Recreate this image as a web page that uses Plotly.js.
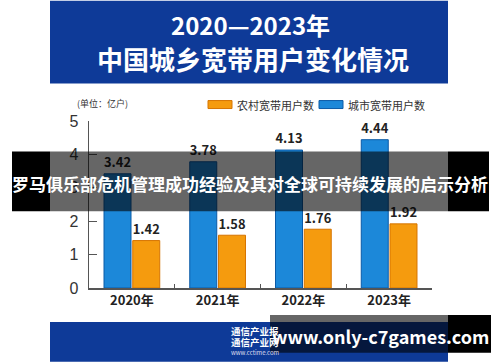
<!DOCTYPE html>
<html>
<head>
<meta charset="utf-8">
<script src="https://cdn.plot.ly/plotly-3.0.1.min.js"></script>
<style>html,body{margin:0;padding:0;background:#fff;}#chart{width:500px;height:362px;}</style>
</head>
<body>
<div id="chart"></div>
<script>
const years = ['2020年', '2021年', '2022年', '2023年'];
const cityUsers = [3.42, 3.78, 4.13, 4.44];
const ruralUsers = [1.42, 1.58, 1.76, 1.92];
const cityName = '城市宽带用户数';
const ruralName = '农村宽带用户数';
const titleLine1 = '2020—2023年';
const titleLine2 = '中国城乡宽带用户变化情况';
const unitLabel = '(单位：亿户)';
const overlayText = '罗马俱乐部危机管理成功经验及其对全球可持续发展的启示分析';
const urlText = 'www.only-c7games.com';

// plot-area geometry in pixels
const L = 89, R = 432, T = 120.5, B = 288;
const X = px => (px - L) / (R - L);
const Y = py => (B - py) / (B - T);

const FONT = '"Noto Sans CJK SC", "Noto Sans", sans-serif';
const BLUE = 'rgb(14,58,152)';
const CITY_COLOR = '#1c88d9', CITY_LINE = '#0b5aa6';
const RURAL_COLOR = '#f59b0e', RURAL_LINE = '#d67400';

const traces = [
  {
    type: 'bar', name: cityName, x: years, y: cityUsers,
    marker: {color: CITY_COLOR, line: {color: CITY_LINE, width: 1}},
    text: cityUsers.map(v => v.toFixed(2)), textposition: 'outside',
    textfont: {family: FONT, size: 14, color: '#222', weight: 'bold'},
    cliponaxis: false, showlegend: false
  },
  {
    type: 'bar', name: ruralName, x: years, y: ruralUsers,
    marker: {color: RURAL_COLOR, line: {color: RURAL_LINE, width: 1}},
    text: ruralUsers.map(v => v.toFixed(2)), textposition: 'outside',
    textfont: {family: FONT, size: 14, color: '#222', weight: 'bold'},
    cliponaxis: false, showlegend: false
  }
];

const rect = (x0, x1, y0, y1, fill, layer, lineColor) => ({
  type: 'rect', xref: 'paper', yref: 'paper',
  x0: X(x0), x1: X(x1), y0: Y(y0), y1: Y(y1),
  fillcolor: fill, line: lineColor ? {color: lineColor, width: 1} : {width: 0}, layer: layer
});

const shapes = [
  // header and footer bands
  rect(50, 448, 0, 83, BLUE, 'below'),
  rect(50, 448, 322, 362, BLUE, 'below'),
  // legend swatches
  rect(208, 232, 100, 108, RURAL_COLOR, 'below', RURAL_LINE),
  rect(319, 343, 100, 108, CITY_COLOR, 'below', CITY_LINE),
  // overlay band
  rect(12, 50, 151, 211, '#000', 'above'),
  rect(448, 489, 151, 211, '#000', 'above'),
  rect(50, 448, 151, 211, 'rgba(0,0,0,0.6)', 'above'),
  // bottom url band
  rect(270, 448, 315, 353, 'rgba(0,0,0,0.6)', 'above'),
  rect(448, 491, 315, 353, '#000', 'above')
];

const ann = (text, px, py, size, opts) => Object.assign({
  text: text, xref: 'paper', yref: 'paper', x: X(px), y: Y(py),
  xanchor: 'center', yanchor: 'middle', showarrow: false,
  font: {family: FONT, size: size, color: '#fff', weight: 'bold'}
}, opts || {});

const annotations = [
  ann(titleLine1, 250, 24, 24),
  ann(titleLine2, 253, 58, 26),
  ann(unitLabel, 102, 103, 9, {font: {family: FONT, size: 9, color: '#333'}}),
  ann(ruralName, 235, 104, 11, {xanchor: 'left', font: {family: FONT, size: 11, color: '#333'}}),
  ann(cityName, 346, 104, 11, {xanchor: 'left', font: {family: FONT, size: 11, color: '#333'}}),
  ann('通信产业报', 255, 331, 9.5),
  ann('通信产业网', 255, 342, 9.5),
  ann('www.cctime.com', 255, 353, 6, {font: {family: FONT, size: 6, color: '#dde'}}),
  ann(overlayText, 250, 183, 17),
  ann(urlText, 380, 336, 18)
];

const layout = {
  width: 500, height: 362,
  margin: {l: L, r: 500 - R, t: T, b: 362 - B, pad: 0},
  paper_bgcolor: '#fff', plot_bgcolor: 'rgba(0,0,0,0)',
  barmode: 'group', bargap: 0.33, bargroupgap: 0.06,
  showlegend: false,
  xaxis: {
    type: 'category', showline: true, linecolor: '#555', linewidth: 1.5,
    ticks: 'inside', ticklen: 4, tickcolor: '#555', tickson: 'boundaries',
    tickfont: {family: FONT, size: 13, color: '#222', weight: 'bold'},
    showgrid: false, zeroline: false, fixedrange: true
  },
  yaxis: {
    range: [0, 5], dtick: 1, showline: true, linecolor: '#555', linewidth: 1.5,
    ticks: 'inside', ticklen: 8, tickcolor: '#555',
    tickfont: {family: '"Liberation Sans", Arial, sans-serif', size: 16, color: '#333'},
    ticklabelstandoff: 6,
    showgrid: false, zeroline: false, fixedrange: true
  },
  shapes: shapes,
  annotations: annotations
};

Plotly.newPlot('chart', traces, layout, {displayModeBar: false, staticPlot: true});
</script>
</body>
</html>
